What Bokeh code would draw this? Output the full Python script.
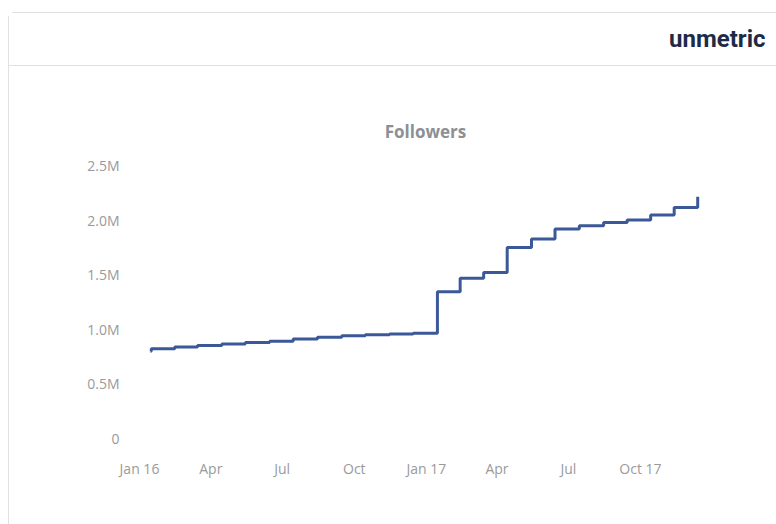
import numpy as np
from bokeh.plotting import figure
from bokeh.models import FixedTicker, Range1d, Label, ColumnDataSource
from bokeh.embed import file_html
from bokeh.resources import INLINE

# ---- data ----
dates = [
    "2016-01-15", "2016-01-16", "2016-02-15", "2016-03-15", "2016-04-15", "2016-05-15",
    "2016-06-15", "2016-07-15", "2016-08-15", "2016-09-15", "2016-10-15", "2016-11-15",
    "2016-12-15", "2017-01-15", "2017-02-13", "2017-03-15", "2017-04-14", "2017-05-15",
    "2017-06-14", "2017-07-15", "2017-08-15", "2017-09-14", "2017-10-14", "2017-11-13",
    "2017-12-13",
]
followers = [
    800000, 822000, 837000, 851000, 866000, 878000,
    890000, 911000, 927000, 940000, 949000, 958000,
    963000, 1345000, 1467000, 1520000, 1750000, 1827000,
    1918000, 1949000, 1979000, 2000000, 2047000, 2116000,
    2214000,
]
x_tick_dates = ["2016-01-01", "2016-04-01", "2016-07-01", "2016-10-01",
                "2017-01-01", "2017-04-01", "2017-07-01", "2017-10-01"]
x_tick_labels = ["Jan 16", "Apr", "Jul", "Oct", "Jan 17", "Apr", "Jul", "Oct 17"]
y_ticks = [0, 500000, 1000000, 1500000, 2000000, 2500000]
y_tick_labels = ["0", "0.5M", "1.0M", "1.5M", "2.0M", "2.5M"]
title_text = "Followers"
brand_text = "unmetric"


def to_ms(ds):
    return [float(v) for v in np.array(ds, dtype="datetime64[ms]").astype("int64")]


x_ms = to_ms(dates)
x_tick_ms = to_ms(x_tick_dates)
src = ColumnDataSource(data=dict(x=x_ms, y=followers))

W, H = 776, 524
FL, FR, FT, FB = 130, 776, 0, 438   # plot frame edges (canvas px)
Y_TOP_TICK_PX = 165                  # where 2.5M sits

day = 86400000.0
x0 = to_ms(["2016-01-01"])[0]
px_per_day = 0.784
x_start = x0 - (139 - FL) / px_per_day * day
x_end = x0 + (FR - 139) / px_per_day * day
y_end = y_ticks[-1] * (FB - FT) / (FB - Y_TOP_TICK_PX)

p = figure(width=W, height=H, output_backend="svg", toolbar_location=None,
           x_range=Range1d(x_start, x_end), y_range=Range1d(0, y_end),
           min_border_left=FL, min_border_right=W - FR,
           min_border_top=FT, min_border_bottom=H - FB)
p.background_fill_color = None
p.border_fill_color = None
p.outline_line_color = None
p.xgrid.visible = False
p.ygrid.visible = False

# card outline + header separator drawn as CSS background on the plot element
line = "linear-gradient(#e1e1e1,#e1e1e1)"
p.styles = {
    "background": (
        f"{line} 8px 16px / 1px 600px no-repeat, "
        f"{line} 12px 12px / 800px 1px no-repeat, "
        f"{line} 8px 65px / 800px 1px no-repeat, "
        "radial-gradient(circle at 12px 16px, transparent 3.5px, #e1e1e1 3.6px, #e1e1e1 4.4px, transparent 4.6px) 8px 12px / 4px 4px no-repeat, "
        "#ffffff"
    )
}

for ax in (p.xaxis[0], p.yaxis[0]):
    ax.axis_line_color = None
    ax.major_tick_line_color = None
    ax.minor_tick_line_color = None
    ax.major_tick_out = 0
    ax.major_tick_in = 0
    ax.minor_tick_out = 0
    ax.major_label_text_font = "Open Sans"
    ax.major_label_text_font_size = "14px"
    ax.major_label_text_color = "#9a9a9a"

p.xaxis[0].ticker = FixedTicker(ticks=x_tick_ms)
p.xaxis[0].major_label_overrides = {t: l for t, l in zip(x_tick_ms, x_tick_labels)}
p.xaxis[0].major_label_standoff = 20
p.yaxis[0].ticker = FixedTicker(ticks=y_ticks)
p.yaxis[0].major_label_overrides = {t: l for t, l in zip(y_ticks, y_tick_labels)}
p.yaxis[0].major_label_standoff = 11

p.step("x", "y", source=src, mode="after", line_color="#3b5998", line_width=3)

chart_title = Label(x=425 - FL, y=FB - 131, x_units="screen", y_units="screen",
                    text=title_text, text_align="center", text_baseline="middle",
                    text_font="Open Sans", text_font_size="17px", text_font_style="bold",
                    text_color="#8c8f94")
brand = Label(x=765 - FL, y=FB - 38, x_units="screen", y_units="screen",
              text=brand_text, text_align="right", text_baseline="middle",
              text_font="Roboto", text_font_size="24px", text_font_style="bold",
              text_color="#1d2b49")
p.add_layout(chart_title)
p.add_layout(brand)

open("out.html", "w").write(file_html(p, INLINE))
